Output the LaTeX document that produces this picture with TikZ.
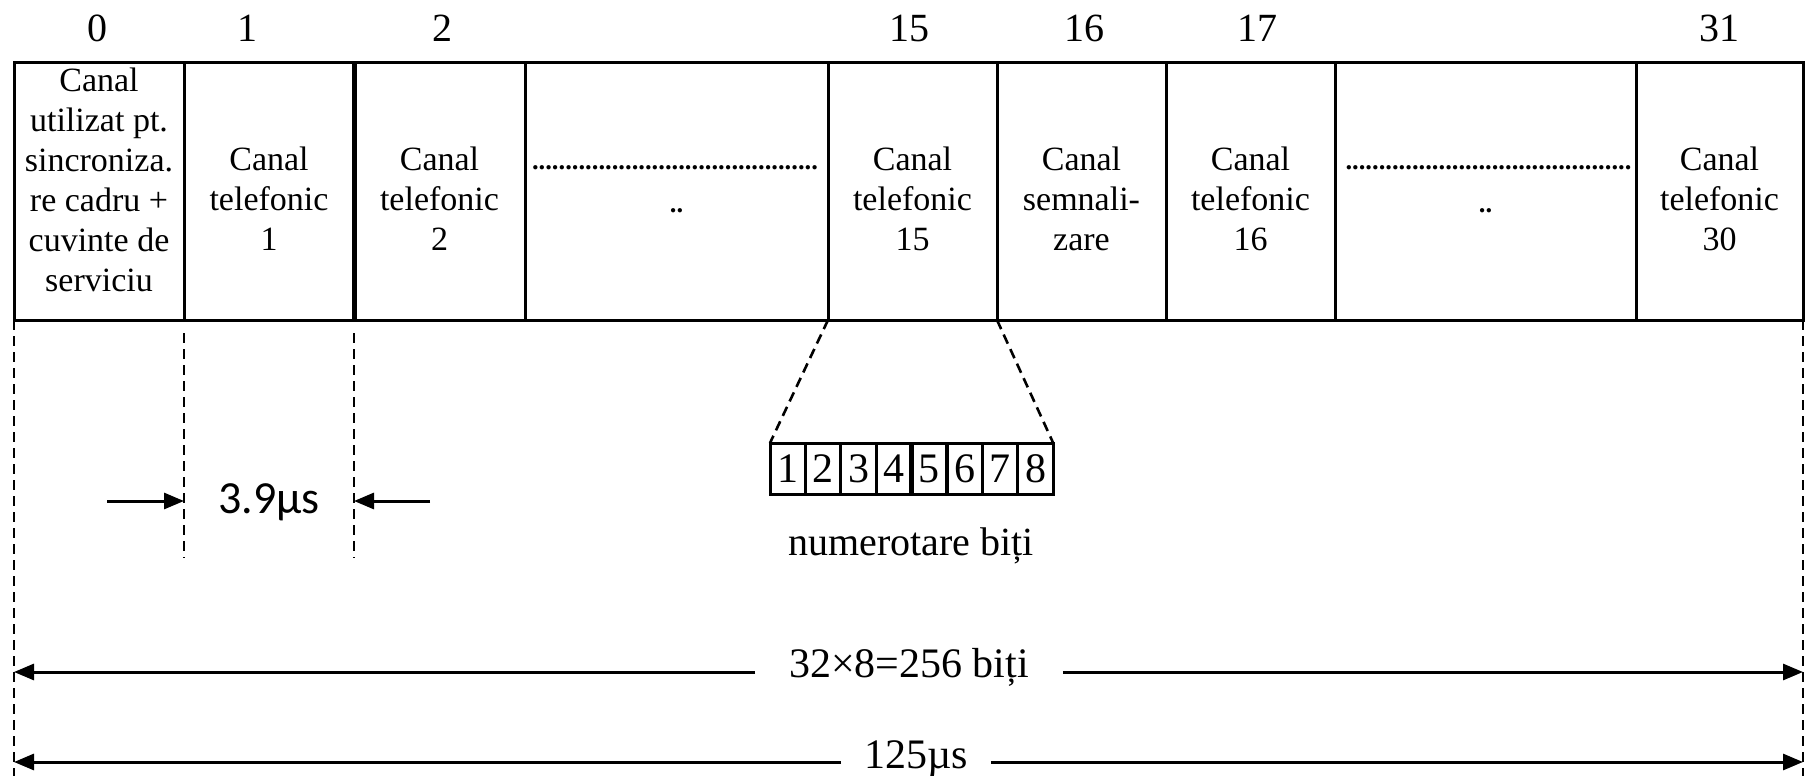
\documentclass[tikz,border=0pt]{standalone}
\usepackage{fontspec}
\setmainfont{Liberation Serif}
\newfontfamily\calfont{Carlito}
\usetikzlibrary{arrows.meta}
\def\mydotrow{...........................................}
\begin{document}
\begin{tikzpicture}[x=0.5pt,y=-0.5pt,
  cellbox/.style={draw, line width=1.5pt, minimum height=129pt, inner sep=0, outer sep=0},
  celltext/.style={font=\fontsize{17}{20}\selectfont, align=center, inner sep=0},
  idx/.style={font=\fontsize{20}{24}\selectfont, inner sep=0},
  dotrow/.style={font=\fontsize{13.3}{16}\selectfont\bfseries, inner sep=0},
  bitbox/.style={draw, line width=1.5pt, minimum width=17.7pt, minimum height=25.5pt, inner sep=0, outer sep=0, font=\fontsize{21}{24}\selectfont},
  guide/.style={line width=1.3pt, dash pattern=on 5pt off 3pt},
  dim/.style={line width=1.5pt, -{Triangle[length=10pt,width=8pt]}},
  bigtext/.style={font=\fontsize{21}{24}\selectfont, inner sep=0}
]
\useasboundingbox (0,0) rectangle (1805,776);

% frame cells
\node[cellbox, minimum width=85pt]    (c0) at (99,191) {};
\node[cellbox, minimum width=85pt]    (c1) at (269,191) {};
\node[cellbox, minimum width=85.5pt]  (c2) at (439.5,191) {};
\node[cellbox, minimum width=151.5pt] (c3) at (676.5,191) {};
\node[cellbox, minimum width=84.5pt]  (c4) at (912.5,191) {};
\node[cellbox, minimum width=84.5pt]  (c5) at (1081.5,191) {};
\node[cellbox, minimum width=84.5pt]  (c6) at (1250.5,191) {};
\node[cellbox, minimum width=150.5pt] (c7) at (1485.5,191) {};
\node[cellbox, minimum width=83.5pt]  (c8) at (1719.5,191) {};
\draw[line width=2.5pt] (c1.north east) -- (c1.south east);

% indices
\node[idx] (i0)  at (97,28)   {0};
\node[idx] (i1)  at (247,28)  {1};
\node[idx] (i2)  at (442,28)  {2};
\node[idx] (i15) at (909,28)  {15};
\node[idx] (i16) at (1084,28) {16};
\node[idx] (i17) at (1257,28) {17};
\node[idx] (i31) at (1719,28) {31};

% cell texts
\node[celltext] (t0)  at (99,180)     {Canal\\utilizat pt.\\sincroniza.\\re cadru +\\cuvinte de\\serviciu};
\node[celltext] (t1)  at (269,199)    {Canal\\telefonic\\1};
\node[celltext] (t2)  at (439.5,199)  {Canal\\telefonic\\2};
\node[celltext] (t15) at (912.5,199)  {Canal\\telefonic\\15};
\node[celltext] (t16) at (1081.5,199) {Canal\\semnali-\\zare};
\node[celltext] (t17) at (1250.5,199) {Canal\\telefonic\\16};
\node[celltext] (t31) at (1719.5,199) {Canal\\telefonic\\30};

\node[dotrow] (d3) at (675,168)    {\mydotrow};
\node[dotrow] (e3) at (676.5,211)  {..};
\node[dotrow] (d7) at (1488.5,168) {\mydotrow};
\node[dotrow] (e7) at (1485.5,211) {..};

% bit boxes
\foreach \i in {1,...,8}
  \node[bitbox] (b\i) at ({770+35.4*(\i-0.5)},468.5) {\i};
\draw[line width=2.2pt] (b4.north east) -- (b4.south east);
\draw[line width=2.2pt] (b5.north east) -- (b5.south east);
\draw[guide] (c4.south west) -- (b1.north west);
\draw[guide] (c4.south east) -- (b8.north east);
\node[font=\fontsize{20}{24}\selectfont, inner sep=0] (nb) at (911,546) {numerotare biți};

% guides
\coordinate (L0) at (14,776);
\coordinate (R0) at (1803,776);
\draw[guide] (c0.south west) -- (L0);
\draw[guide] (c8.south east) -- (R0);
\coordinate (s1a) at (184,333);
\coordinate (s1b) at (184,558);
\coordinate (s2a) at (354,333);
\coordinate (s2b) at (354,558);
\draw[guide] (s1a) -- (s1b);
\draw[guide] (s2a) -- (s2b);

% 3.9 us
\node[font=\calfont\fontsize{23}{26}\selectfont, inner sep=0] (t39) at (269,502) {3.9µs};
\coordinate (a1) at (107,501);
\coordinate (a2) at (430,501);
\draw[dim] (a1) -- (a1 -| s1a);
\draw[dim] (a2) -- (a2 -| s2a);

% bottom dimensions
\coordinate (y256) at (0,672);
\coordinate (y125) at (0,762);
\node[bigtext, outer xsep=17pt] (n256) at (909,667) {32×8=256 biți};
\draw[dim] (n256.west |- y256) -- (L0 |- y256);
\draw[dim] (n256.east |- y256) -- (R0 |- y256);
\node[bigtext, outer xsep=11.5pt] (n125) at (916,759) {125µs};
\draw[dim] (n125.west |- y125) -- (L0 |- y125);
\draw[dim] (n125.east |- y125) -- (R0 |- y125);
\end{tikzpicture}
\end{document}
